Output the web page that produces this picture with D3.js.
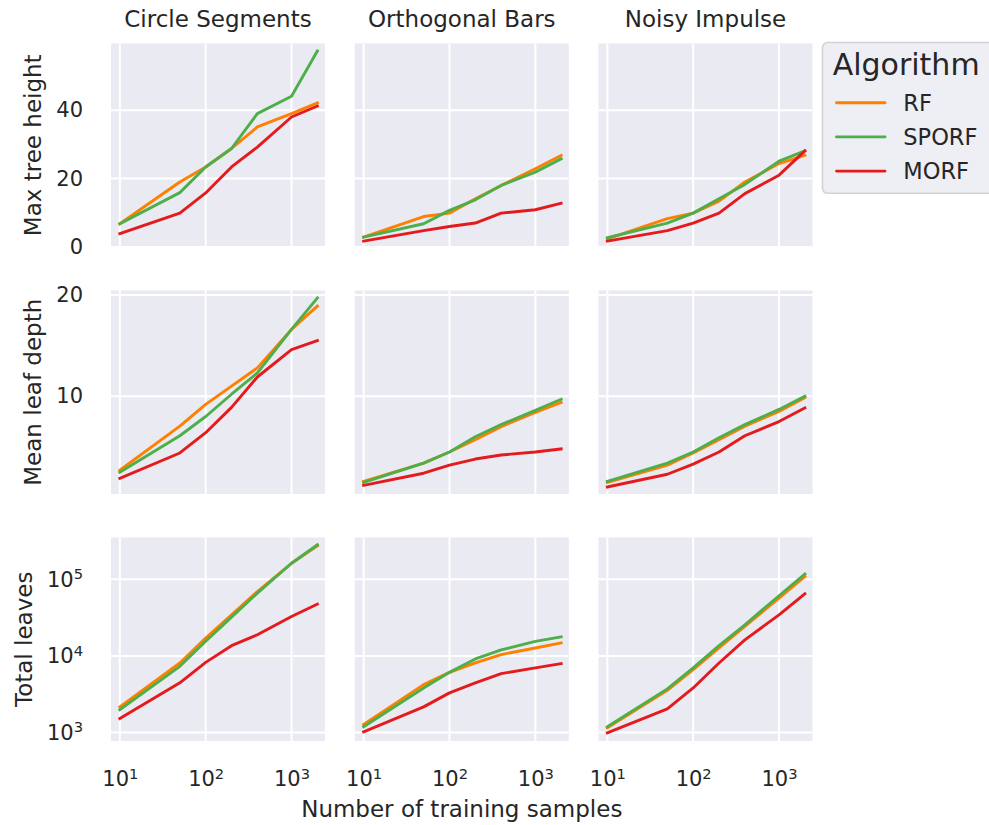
<!DOCTYPE html>
<html>
<head>
<meta charset="utf-8">
<script src="https://cdn.jsdelivr.net/npm/d3@7"></script>
<style>
  body { margin: 0; background: #fff; }
  svg { display: block; font-family: "DejaVu Sans", sans-serif; }
</style>
</head>
<body>
<div id="chart"></div>
<script>
var samples = [10, 50, 100, 200, 400, 1000, 2000];
var algorithms = ["RF", "SPORF", "MORF"];
var datasets = ["Circle Segments", "Orthogonal Bars", "Noisy Impulse"];
var metrics = ["Max tree height", "Mean leaf depth", "Total leaves"];
var colors = ["#ff7f00", "#4daf4a", "#e41a1c"];

// each array: one series per algorithm (RF, SPORF, MORF), one value per sample size
var heightCircle  = [[6.8, 19, 23.4, 28.8, 35.1, 39, 42.1], [6.8, 15.9, 23.4, 28.8, 39, 44.1, 57.3], [3.9, 9.9, 15.8, 23.4, 29.2, 38, 41.2]];
var heightBars    = [[2.9, 8.9, 9.9, 14.1, 18, 22.9, 26.8], [2.9, 6.8, 10.7, 13.8, 18, 21.9, 25.8], [1.7, 4.8, 6, 7, 9.9, 10.9, 12.8]];
var heightImpulse = [[2.4, 8.3, 9.9, 13.4, 19, 24.4, 26.8], [2.7, 7, 9.9, 14.1, 18.3, 25.1, 28.1], [1.7, 4.8, 7, 9.9, 15.6, 21, 28.1]];

var depthCircle  = [[2.7, 7.05, 9.2, 11.0, 12.8, 16.6, 18.9], [2.5, 6.1, 8.0, 10.2, 12.3, 16.6, 19.7], [1.9, 4.4, 6.4, 8.9, 11.9, 14.6, 15.5]];
var depthBars    = [[1.6, 3.4, 4.5, 5.7, 7.0, 8.4, 9.4], [1.5, 3.4, 4.5, 6.0, 7.2, 8.6, 9.7], [1.2, 2.4, 3.2, 3.8, 4.2, 4.5, 4.8]];
var depthImpulse = [[1.5, 3.2, 4.4, 5.7, 7.05, 8.5, 9.85], [1.6, 3.4, 4.5, 5.9, 7.2, 8.7, 10.0], [1.05, 2.3, 3.3, 4.5, 6.1, 7.5, 8.85]];

var leavesCircle  = [[2160, 8090, 17100, 34400, 69300, 162000, 273000], [1990, 7310, 15500, 32100, 66100, 162000, 282000], [1520, 4450, 8240, 13600, 18900, 32700, 47500]];
var leavesBars    = [[1270, 4220, 6100, 8090, 10400, 12700, 14800], [1190, 3820, 6100, 9120, 12000, 15500, 17700], [1020, 2160, 3290, 4450, 5870, 6970, 7920]];
var leavesImpulse = [[1150, 3560, 6620, 12700, 24300, 56900, 109000], [1190, 3710, 6970, 13600, 25500, 61000, 117000], [990, 2040, 3820, 8090, 16200, 34400, 64700]];

var xTicks = [10, 100, 1000];
var yTicks = [[0, 20, 40], [10, 20], [1e3, 1e4, 1e5]];

var panels = [
  [heightCircle, heightBars, heightImpulse],
  [depthCircle, depthBars, depthImpulse],
  [leavesCircle, leavesBars, leavesImpulse]
];

var W = 989, H = 825;
var colLeft = [111, 354.8, 598.5], panelW = 214;
var rowTop = [43.5, 290.5, 537.5], panelH = 203.5;
var ink = "#262626";

var svg = d3.select("#chart").append("svg")
  .attr("width", W).attr("height", H);

var x = d3.scaleLog().domain([Math.pow(10, 0.897), Math.pow(10, 3.39)]).range([0, panelW]);
var yScales = [
  d3.scaleLinear().domain([0, 59.5]).range([panelH, 0]),
  d3.scaleLinear().domain([0.35, 20.44]).range([panelH, 0]),
  d3.scaleLog().domain([Math.pow(10, 2.889), Math.pow(10, 5.546)]).range([panelH, 0])
];

// "10" with a raised exponent, like matplotlib mathtext
function powerLabel(text, size) {
  text.each(function(d) {
    var t = d3.select(this);
    t.text("10");
    t.append("tspan")
      .attr("dy", "-0.5em")
      .attr("font-size", size * 0.7)
      .text(Math.round(Math.log10(d)));
  });
}

panels.forEach(function(row, r) {
  var y = yScales[r];
  row.forEach(function(series, c) {
    var g = svg.append("g")
      .attr("transform", "translate(" + colLeft[c] + "," + rowTop[r] + ")");

    g.append("rect")
      .attr("width", panelW).attr("height", panelH)
      .attr("fill", "#eaeaf2");

    g.selectAll("line.vgrid").data(xTicks).enter().append("line")
      .attr("x1", function(d) { return x(d); })
      .attr("x2", function(d) { return x(d); })
      .attr("y1", 0).attr("y2", panelH)
      .attr("stroke", "#fff").attr("stroke-width", 2);

    g.selectAll("line.hgrid").data(yTicks[r]).enter().append("line")
      .attr("x1", 0).attr("x2", panelW)
      .attr("y1", function(d) { return y(d); })
      .attr("y2", function(d) { return y(d); })
      .attr("stroke", "#fff").attr("stroke-width", 2);

    var line = d3.line()
      .x(function(d, i) { return x(samples[i]); })
      .y(function(d) { return y(d); });

    g.selectAll("path.series").data(series).enter().append("path")
      .attr("d", line)
      .attr("fill", "none")
      .attr("stroke", function(d, i) { return colors[i]; })
      .attr("stroke-width", 2.9)
      .attr("stroke-linejoin", "round")
      .attr("stroke-linecap", "square");

    if (r === 0) {
      g.append("text")
        .attr("x", panelW / 2).attr("y", 27.3 - rowTop[0])
        .attr("text-anchor", "middle")
        .attr("font-size", 23).attr("fill", ink)
        .text(datasets[c]);
    }

    if (r === 2) {
      var ax = g.append("g")
        .attr("transform", "translate(0," + panelH + ")")
        .call(d3.axisBottom(x).tickValues(xTicks).tickSize(0).tickPadding(30));
      ax.select(".domain").remove();
      ax.attr("font-family", null).attr("font-size", null);
      ax.selectAll("text").attr("font-size", 21).attr("fill", ink).call(powerLabel, 21);
    }

    if (c === 0) {
      var ay = g.append("g")
        .call(d3.axisLeft(y).tickValues(yTicks[r]).tickSize(0).tickPadding(28));
      ay.select(".domain").remove();
      ay.attr("font-family", null).attr("font-size", null);
      ay.selectAll("text").attr("font-size", 21).attr("fill", ink);
      if (r === 2) {
        ay.selectAll("text").call(powerLabel, 21);
      } else {
        ay.selectAll("text").text(function(d) { return d; });
      }
      var box = ay.node().getBBox();
      g.append("text")
        .attr("transform", "translate(" + (box.x - 15) + "," + (panelH / 2) + ") rotate(-90)")
        .attr("text-anchor", "middle")
        .attr("font-size", 23).attr("fill", ink)
        .text(metrics[r]);
    }
  });
});

svg.append("text")
  .attr("x", colLeft[1] + panelW / 2).attr("y", 817)
  .attr("text-anchor", "middle")
  .attr("font-size", 23).attr("fill", ink)
  .text("Number of training samples");

// legend, cut off by the right edge as in the original
var lg = svg.append("g").attr("transform", "translate(822.5,42.5)");
lg.append("rect")
  .attr("width", 200).attr("height", 150.8)
  .attr("rx", 5)
  .attr("fill", "#eeeef5")
  .attr("stroke", "#d2d2d6").attr("stroke-width", 1.6);
lg.append("text")
  .attr("x", 10.2).attr("y", 32.5)
  .attr("font-size", 30).attr("fill", ink)
  .text("Algorithm");
var item = lg.selectAll("g.item").data(algorithms).enter().append("g")
  .attr("transform", function(d, i) { return "translate(0," + (60.2 + i * 34.2) + ")"; });
item.append("line")
  .attr("x1", 14).attr("x2", 62.5)
  .attr("stroke", function(d, i) { return colors[i]; })
  .attr("stroke-width", 2.9).attr("stroke-linecap", "round");
item.append("text")
  .attr("x", 80.8).attr("dy", "0.36em")
  .attr("font-size", 22.5).attr("fill", ink)
  .text(function(d) { return d; });
</script>
</body>
</html>
